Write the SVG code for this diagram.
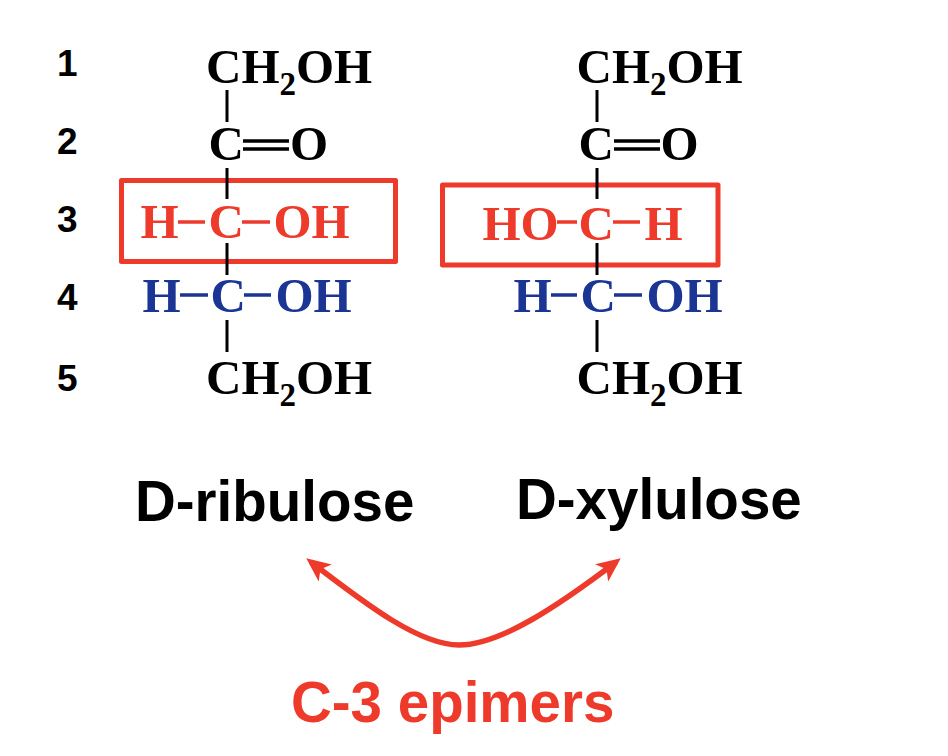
<svg xmlns="http://www.w3.org/2000/svg" width="948" height="756" viewBox="0 0 948 756">
<style>
.s{font-family:"Liberation Serif","Times New Roman",serif;font-weight:700;font-size:49px}
.sub{font-size:33px}
.n{font-family:"Liberation Sans",Arial,sans-serif;font-weight:700;font-size:37px;fill:#000}
.l{font-family:"Liberation Sans",Arial,sans-serif;font-weight:700;font-size:56.500px;fill:#000}
.k{fill:#000}.r{fill:#EE3A2A}.b{fill:#1A3594}
.bk{stroke:#000;stroke-width:3;fill:none}
.bd{stroke:#000;stroke-width:3.500;fill:none}
.br{stroke:#EE3A2A;stroke-width:3.500;fill:none}
.bb{stroke:#1A3594;stroke-width:3.500;fill:none}
.box{fill:none;stroke:#EE3A2A;stroke-width:5;stroke-linejoin:round}
</style>
<defs>
<marker id="ah" markerUnits="userSpaceOnUse" markerWidth="24" markerHeight="24" refX="15" refY="10" orient="auto-start-reverse" viewBox="0 0 20 20">
<path d="M0 1 L20 10 L0 19 L5 10 Z" fill="#EE3A2A"/>
</marker>
</defs>
<rect width="948" height="756" fill="#fff"/>
<g id="numbers">
<text class="n" x="57" y="76">1</text>
<text class="n" x="57" y="154">2</text>
<text class="n" x="57" y="232">3</text>
<text class="n" x="57" y="310">4</text>
<text class="n" x="57" y="391">5</text>
</g>
<g id="box-ribulose"><rect class="box" x="121.500" y="180.500" width="274" height="81"/></g>
<g id="box-xylulose"><rect class="box" x="442.500" y="185" width="275.500" height="80"/></g>
<g id="connectors">
<path class="bk" d="M227 90V122M227 168V199M227 243V275M227 320V352"/>
<path class="bd" d="M243 141H289M243 149H289"/>
<path class="br" d="M178 222H205M242 222H270"/>
<path class="bb" d="M180 295H208M244 295H271"/>
<path class="bk" d="M597 90V122M597 168V199M597 243V275M597 320V352"/>
<path class="bd" d="M614 141H660M614 149H660"/>
<path class="br" d="M557 222H577M613 222H640"/>
<path class="bb" d="M551 295H577M614 295H642"/>
<path d="M311 562C368 606 420 645 459 645C500 645 558 606 616 562" fill="none" stroke="#EE3A2A" stroke-width="5.500" marker-start="url(#ah)" marker-end="url(#ah)"/>
</g>
<g id="ribulose">
<text class="s k" x="206" y="83">CH<tspan class="sub" dy="12">2</tspan><tspan dy="-12">OH</tspan></text>
<text class="s k" x="208.500" y="160">C</text>
<text class="s k" x="290" y="160">O</text>
<text class="s r" x="140.500" y="238">H</text>
<text class="s r" x="208.500" y="238">C</text>
<text class="s r" x="273.500" y="238">OH</text>
<text class="s b" x="142.500" y="312">H</text>
<text class="s b" x="210.500" y="312">C</text>
<text class="s b" x="275.500" y="312">OH</text>
<text class="s k" x="206" y="394">CH<tspan class="sub" dy="12">2</tspan><tspan dy="-12">OH</tspan></text>
</g>
<g id="xylulose">
<text class="s k" x="576.500" y="83">CH<tspan class="sub" dy="12">2</tspan><tspan dy="-12">OH</tspan></text>
<text class="s k" x="578.500" y="160">C</text>
<text class="s k" x="660.500" y="160">O</text>
<text class="s r" x="482.500" y="240">HO</text>
<text class="s r" x="578.500" y="240">C</text>
<text class="s r" x="644.500" y="240">H</text>
<text class="s b" x="513.500" y="312">H</text>
<text class="s b" x="580.500" y="312">C</text>
<text class="s b" x="646.500" y="312">OH</text>
<text class="s k" x="576.500" y="394">CH<tspan class="sub" dy="12">2</tspan><tspan dy="-12">OH</tspan></text>
</g>
<g id="labels">
<text class="l" x="135" y="521">D-ribulose</text>
<text class="l" x="516" y="519">D-xylulose</text>
<text class="l r" x="291" y="722">C-3 epimers</text>
</g>
</svg>
